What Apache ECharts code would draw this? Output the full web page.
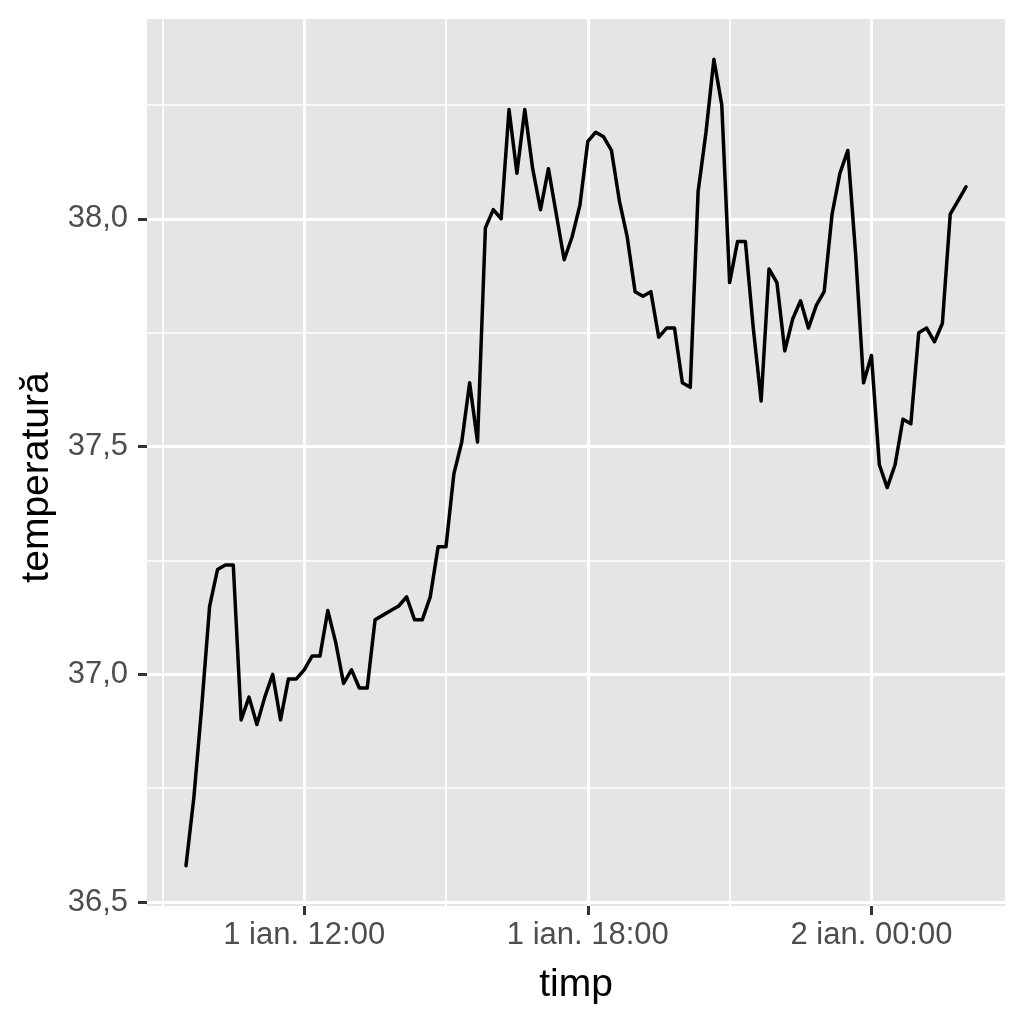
<!DOCTYPE html>
<html><head><meta charset="utf-8">
<script src="https://cdn.jsdelivr.net/npm/echarts@6/dist/echarts.min.js"></script>
<style>html,body{margin:0;padding:0;background:#fff}#c{width:1024px;height:1024px}</style>
</head><body><div id="c"></div>
<script>
// clock times (hhmm), 10-minute samples starting 1 ian. 09:30
const clockTimes = [930,940,950,1000,1010,1020,1030,1040,1050,1100,1110,1120,1130,1140,1150,1200,1210,1220,1230,1240,1250,1300,1310,1320,1330,1340,1350,1400,1410,1420,1430,1440,1450,1500,1510,1520,1530,1540,1550,1600,1610,1620,1630,1640,1650,1700,1710,1720,1730,1740,1750,1800,1810,1820,1830,1840,1850,1900,1910,1920,1930,1940,1950,2000,2010,2020,2030,2040,2050,2100,2110,2120,2130,2140,2150,2200,2210,2220,2230,2240,2250,2300,2310,2320,2330,2340,2350,0,10,20,30,40,50,100,110,120,130,140,150,200];
const temperatures = [36.58,36.73,36.93,37.15,37.23,37.24,37.24,36.90,36.95,36.89,36.95,37.00,36.90,36.99,36.99,37.01,37.04,37.04,37.14,37.07,36.98,37.01,36.97,36.97,37.12,37.13,37.14,37.15,37.17,37.12,37.12,37.17,37.28,37.28,37.44,37.51,37.64,37.51,37.98,38.02,38.00,38.24,38.10,38.24,38.11,38.02,38.11,38.01,37.91,37.96,38.03,38.17,38.19,38.18,38.15,38.04,37.96,37.84,37.83,37.84,37.74,37.76,37.76,37.64,37.63,38.06,38.19,38.35,38.25,37.86,37.95,37.95,37.76,37.60,37.89,37.86,37.71,37.78,37.82,37.76,37.81,37.84,38.01,38.10,38.15,37.92,37.64,37.70,37.46,37.41,37.46,37.56,37.55,37.75,37.76,37.73,37.77,38.01,38.04,38.07];
const xTickHours = [12, 18, 24];
const xTickLabels = ['1 ian. 12:00', '1 ian. 18:00', '2 ian. 00:00'];
const xMinorHours = [9, 15, 21];
const yTicks = [36.5, 37.0, 37.5, 38.0];
const yTickLabels = ['36,5', '37,0', '37,5', '38,0'];
const yMinor = [36.75, 37.25, 37.75, 38.25];

// convert clock times to hours since 1 ian. 00:00
let dayOffset = 0, prev = -1;
const points = clockTimes.map((t, i) => {
  if (t < prev) dayOffset += 24;
  prev = t;
  const h = Math.floor(t / 100) + (t % 100) / 60 + dayOffset;
  return [h, temperatures[i]];
});
const xs = points.map(p => p[0]);
const xMin0 = Math.min(...xs), xMax0 = Math.max(...xs);
const yMin0 = Math.min(...temperatures), yMax0 = Math.max(...temperatures);
const xPad = (xMax0 - xMin0) * 0.05, yPad = (yMax0 - yMin0) * 0.05;

const chart = echarts.init(document.getElementById('c'));
const FF = 'Liberation Sans, Arial, sans-serif';
const labelFont = {color: '#4D4D4D', fontSize: 31, fontFamily: FF};
const major = {color: '#FFFFFF', width: 3, type: 'solid'};
const minor = {color: '#FFFFFF', width: 1.6, type: 'solid'};
chart.setOption({
  backgroundColor: '#FFFFFF',
  animation: false,
  grid: {left: 147, right: 19, top: 19, bottom: 118, show: true, backgroundColor: '#E5E5E5', borderWidth: 0},
  xAxis: {
    type: 'value', min: xMin0 - xPad, max: xMax0 + xPad,
    name: 'timp', nameLocation: 'middle', nameGap: 60,
    nameTextStyle: {color: '#000', fontSize: 39, fontFamily: FF},
    axisLine: {show: false},
    axisTick: {show: true, customValues: xTickHours, length: 9, lineStyle: {color: '#333', width: 3}},
    axisLabel: Object.assign({customValues: xTickHours, margin: 14,
      formatter: v => xTickLabels[xTickHours.findIndex(h => Math.abs(h - v) < 1e-6)] || ''}, labelFont),
    splitLine: {show: false}
  },
  yAxis: {
    type: 'value', min: yMin0 - yPad, max: yMax0 + yPad,
    name: 'temperatură', nameLocation: 'middle', nameGap: 90, nameRotate: 90,
    nameTextStyle: {color: '#000', fontSize: 39, fontFamily: FF, padding: [0, 30, 0, 0]},
    axisLine: {show: false},
    axisTick: {show: true, customValues: yTicks, length: 9, lineStyle: {color: '#333', width: 3}},
    axisLabel: Object.assign({customValues: yTicks, margin: 19,
      formatter: v => yTickLabels[yTicks.findIndex(t => Math.abs(t - v) < 1e-6)] || ''}, labelFont),
    splitLine: {show: false}
  },
  series: [
    {
      type: 'line', data: [], z: 1, silent: true,
      markLine: {
        silent: true, symbol: 'none', label: {show: false}, z: 1, animation: false,
        data: [
          ...xMinorHours.map(h => ({xAxis: h, lineStyle: minor})),
          ...yMinor.map(v => ({yAxis: v, lineStyle: minor})),
          ...xTickHours.map(h => ({xAxis: h, lineStyle: major})),
          ...yTicks.map(v => ({yAxis: v, lineStyle: major}))
        ]
      }
    },
    {
      type: 'line', data: points, z: 5, showSymbol: false, symbol: 'none',
      lineStyle: {color: '#000', width: 3.5, join: 'round', cap: 'round'}
    }
  ]
});
</script></body></html>
